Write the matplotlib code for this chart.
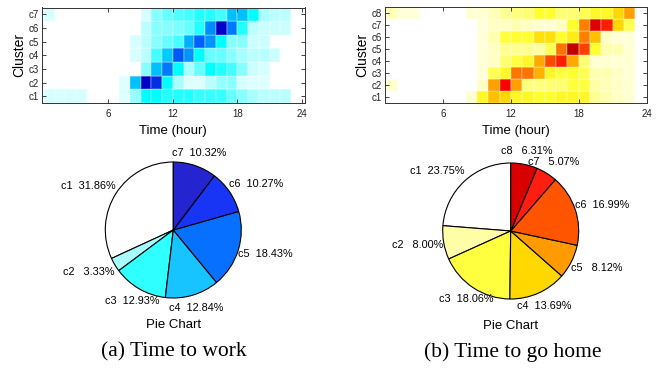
import matplotlib
matplotlib.use("Agg")
import matplotlib.pyplot as plt
import numpy as np
from matplotlib.colors import LinearSegmentedColormap

# ---- data ----
hours = np.arange(25)  # hour bin edges 0..24

# time to work: rows c1..c7, one value per hour 0..23 (relative intensity)
work = [
    [0.12, 0.12, 0.12, 0.12, 0, 0, 0, 0.1, 0.28, 0.5, 0.5, 0.45, 0.45, 0.45, 0.42, 0.42, 0.42, 0.35, 0.3, 0.25, 0.2, 0.2, 0.2, 0],
    [0, 0, 0, 0, 0, 0, 0, 0.1, 0.62, 1.0, 0.9, 0.5, 0.25, 0.1, 0.1, 0.2, 0.28, 0.3, 0.12, 0.1, 0.1, 0, 0, 0],
    [0, 0, 0, 0, 0, 0, 0, 0, 0, 0.3, 0.62, 0.75, 0.5, 0.25, 0.35, 0.5, 0.45, 0.4, 0.3, 0.15, 0.12, 0, 0, 0],
    [0, 0, 0, 0, 0, 0, 0, 0, 0.12, 0.2, 0.4, 0.6, 0.82, 0.7, 0.5, 0.35, 0.35, 0.3, 0.25, 0.2, 0.2, 0.15, 0, 0],
    [0, 0, 0, 0, 0, 0, 0, 0, 0.12, 0.2, 0.3, 0.35, 0.4, 0.65, 0.8, 0.7, 0.5, 0.3, 0.3, 0.15, 0.15, 0, 0, 0],
    [0, 0, 0, 0, 0, 0, 0, 0, 0, 0.2, 0.3, 0.3, 0.32, 0.35, 0.45, 0.72, 1.0, 0.75, 0.45, 0.2, 0.15, 0.15, 0.15, 0],
    [0.12, 0, 0, 0, 0, 0, 0, 0, 0, 0.12, 0.3, 0.35, 0.38, 0.4, 0.45, 0.45, 0.4, 0.62, 0.62, 0.5, 0.25, 0.2, 0.2, 0],
]

# time to go home: rows c1..c8
home = [
    [0, 0, 0, 0, 0, 0, 0, 0, 0.12, 0.42, 0.55, 0.5, 0.42, 0.42, 0.4, 0.4, 0.42, 0.42, 0.42, 0.25, 0.2, 0.15, 0.12, 0],
    [0.12, 0.12, 0, 0, 0, 0, 0, 0, 0, 0.15, 0.62, 0.9, 0.62, 0.28, 0.28, 0.3, 0.3, 0.38, 0.38, 0.22, 0.18, 0.15, 0.12, 0],
    [0, 0, 0, 0, 0, 0, 0, 0, 0, 0.1, 0.35, 0.42, 0.7, 0.7, 0.58, 0.42, 0.38, 0.4, 0.35, 0.2, 0.2, 0.15, 0.12, 0],
    [0, 0, 0, 0, 0, 0, 0, 0, 0, 0.1, 0.15, 0.3, 0.38, 0.42, 0.6, 0.78, 0.85, 0.6, 0.3, 0.12, 0.12, 0.12, 0.12, 0],
    [0, 0, 0, 0, 0, 0, 0, 0, 0, 0.1, 0.15, 0.25, 0.25, 0.25, 0.22, 0.35, 0.7, 1.0, 0.8, 0.4, 0.2, 0.2, 0.12, 0],
    [0, 0, 0, 0, 0, 0, 0, 0, 0, 0.1, 0.2, 0.38, 0.4, 0.4, 0.48, 0.48, 0.4, 0.45, 0.68, 0.55, 0.15, 0.1, 0.1, 0],
    [0, 0, 0, 0, 0, 0, 0, 0, 0, 0.1, 0.15, 0.15, 0.2, 0.15, 0.12, 0.12, 0.15, 0.4, 0.68, 0.95, 0.85, 0.5, 0.35, 0],
    [0.18, 0.18, 0.1, 0.1, 0, 0, 0, 0, 0.12, 0.12, 0.18, 0.25, 0.28, 0.3, 0.4, 0.4, 0.3, 0.3, 0.35, 0.42, 0.42, 0.5, 0.62, 0],
]

work_labels = ['c1', 'c2', 'c3', 'c4', 'c5', 'c6', 'c7']
home_labels = ['c1', 'c2', 'c3', 'c4', 'c5', 'c6', 'c7', 'c8']
work_share = [31.86, 3.33, 12.93, 12.84, 18.43, 10.27, 10.32]
home_share = [23.75, 8.00, 18.06, 13.69, 8.12, 16.99, 5.07, 6.31]
work_colors = ['#ffffff', '#a8ffff', '#30ffff', '#18c4ff', '#0870ff', '#1834f4', '#2424d0']
home_colors = ['#ffffff', '#ffffa8', '#ffff40', '#ffd800', '#ff9a00', '#ff5400', '#ff1c10', '#d80000']
time_ticks = [6, 12, 18, 24]

plt.rcParams['font.family'] = ['Liberation Sans', 'DejaVu Sans']

cmap_work = LinearSegmentedColormap.from_list(
    'work', [(0, '#ffffff'), (0.25, '#a8ffff'), (0.5, '#00ffff'),
             (0.65, '#00b0ff'), (0.8, '#0060ff'), (1.0, '#0000c8')])
cmap_home = LinearSegmentedColormap.from_list(
    'home', [(0, '#ffffff'), (0.2, '#ffffb0'), (0.4, '#ffff30'), (0.5, '#ffd800'),
             (0.65, '#ff9000'), (0.8, '#ff4000'), (0.9, '#ff0000'), (1.0, '#c00000')])

W, H = 656, 369
fig = plt.figure(figsize=(W / 100, H / 100), dpi=100)


def px_axes(x0, y0, x1, y1):
    # rectangle given in pixels from the top-left corner
    return fig.add_axes([x0 / W, 1 - y1 / H, (x1 - x0) / W, (y1 - y0) / H])


def heatmap(ax, data, labels, cmap, xlim):
    data = np.array(data)
    n = len(labels)
    ax.pcolormesh(hours, np.arange(n + 1) + 0.5, data, cmap=cmap, vmin=0, vmax=1,
                  edgecolors=(1, 1, 1, 0.18), linewidth=0.3)
    ax.set_xlim(*xlim)
    ax.set_ylim(0.5, n + 0.5)
    ax.set_xticks(time_ticks)
    ax.set_yticks(np.arange(1, n + 1))
    ax.set_yticklabels(labels)
    ax.tick_params(direction='in', top=True, right=True, length=3, width=0.6,
                   labelsize=7, colors='#222222')
    ax.tick_params(axis='x', pad=4.5)
    ax.tick_params(axis='y', pad=2)
    for s in ax.spines.values():
        s.set_linewidth(0.7)
        s.set_color('#333333')
    ax.set_xlabel('Time (hour)', fontsize=9.5, labelpad=4)
    ax.set_ylabel('Cluster', fontsize=10, labelpad=2)


def pie(ax, share, labels, colors):
    wedges, _ = ax.pie(share, colors=colors, startangle=90, counterclock=True,
                       wedgeprops=dict(edgecolor='black', linewidth=0.8))
    ax.set_xlim(-100 / 68, 100 / 68)
    ax.set_ylim(-100 / 68, 100 / 68)
    for w, lab, v in zip(wedges, labels, share):
        a = np.deg2rad((w.theta1 + w.theta2) / 2)
        c, s = np.cos(a), np.sin(a)
        if c > 0.6:
            x, ha = c, 'left'
        elif c < -0.6:
            x, ha = c, 'right'
        else:
            x, ha = 1.2 * c, 'center'
        ax.text(x, 1.2 * s, f'{lab}  {v:5.2f}%', ha=ha, va='center', fontsize=7.8)
    ax.text(0, -1.397, 'Pie Chart', ha='center', va='center', fontsize=9.5)


ax1 = px_axes(41.7, 7.5, 305, 103)
heatmap(ax1, work, work_labels, cmap_work, (-0.2, 24.3))
ax2 = px_axes(385, 6.7, 646.7, 103)
heatmap(ax2, home, home_labels, cmap_home, (0.88, 23.95))

p1 = px_axes(73.3, 130, 273.3, 330)
pie(p1, work_share, work_labels, work_colors)
p2 = px_axes(410.7, 131, 610.7, 331)
pie(p2, home_share, home_labels, home_colors)

fig.text(173.5 / W, 1 - 352 / H, '(a) Time to work', ha='center', va='center',
         fontsize=15.5, family=['Liberation Serif', 'DejaVu Serif'])
fig.text(513 / W, 1 - 352 / H, '(b) Time to go home', ha='center', va='center',
         fontsize=15.5, family=['Liberation Serif', 'DejaVu Serif'])

fig.savefig('out.png', dpi=100)
